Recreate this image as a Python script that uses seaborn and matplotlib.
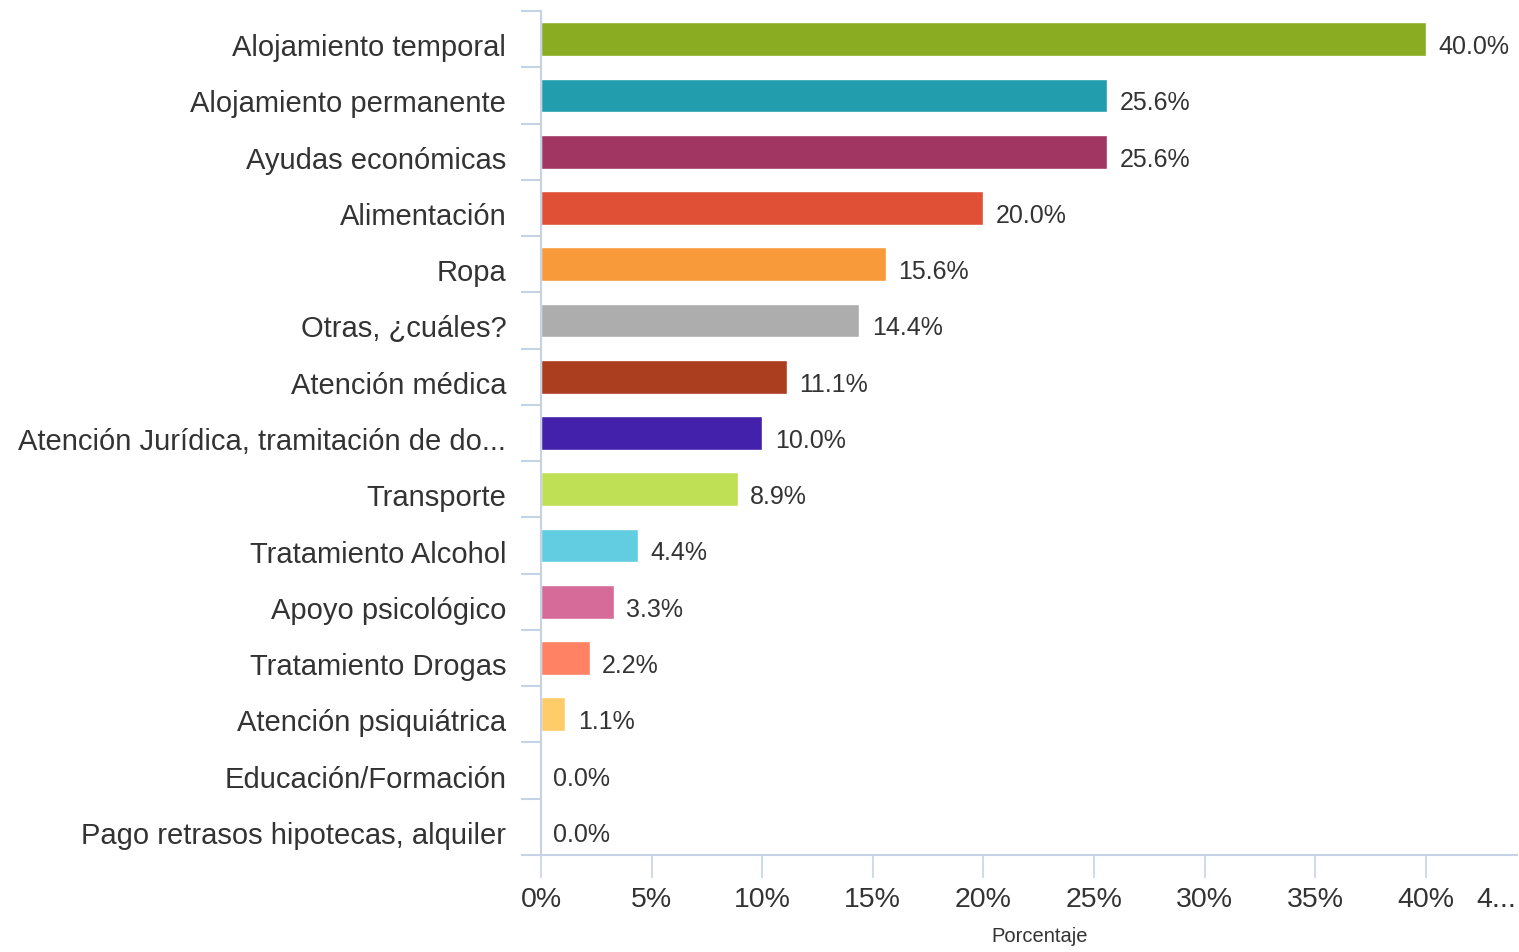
import matplotlib
matplotlib.use("Agg")
import matplotlib.pyplot as plt
import seaborn as sns
import pandas as pd
from matplotlib.ticker import FixedLocator
from matplotlib.transforms import ScaledTranslation

categories = [
    "Alojamiento temporal",
    "Alojamiento permanente",
    "Ayudas económicas",
    "Alimentación",
    "Ropa",
    "Otras, ¿cuáles?",
    "Atención médica",
    "Atención Jurídica, tramitación de do...",
    "Transporte",
    "Tratamiento Alcohol",
    "Apoyo psicológico",
    "Tratamiento Drogas",
    "Atención psiquiátrica",
    "Educación/Formación",
    "Pago retrasos hipotecas, alquiler",
]
values = [40.0, 25.6, 25.6, 20.0, 15.6, 14.4, 11.1, 10.0, 8.9, 4.4, 3.3, 2.2, 1.1, 0.0, 0.0]
colors = ["#8aac22", "#229dad", "#a23663", "#df5037", "#f89a3a", "#adadad", "#aa3e1f",
          "#4421aa", "#bfdf55", "#62cde0", "#d66a98", "#ff8264", "#ffcc6a", "#cccccc", "#cccccc"]
xticks = [0, 5, 10, 15, 20, 25, 30, 35, 40]
xticklabels = ["0%", "5%", "10%", "15%", "20%", "25%", "30%", "35%", "40%"]
truncated_label = "4..."

sns.set_theme(style="white")
plt.rcParams["font.family"] = ["Liberation Sans", "DejaVu Sans"]

df = pd.DataFrame({"cat": categories, "val": values})

fig = plt.figure(figsize=(15.19, 9.53), dpi=100)
ax = fig.add_axes([541 / 1519, 1 - 856 / 953, 1 - 541 / 1519 - 0.001, (856 - 12) / 953])

sns.barplot(data=df, x="val", y="cat", hue="cat", palette=colors, legend=False,
            orient="h", width=0.6, ax=ax, saturation=1)

axis_col = "#c6d3e6"
text_col = "#333333"

ax.set_xlim(0, 44.15)
ax.set_ylim(len(categories) - 0.5, -0.5)

for s in ["top", "right"]:
    ax.spines[s].set_visible(False)
for s in ["left", "bottom"]:
    ax.spines[s].set_color(axis_col)
    ax.spines[s].set_linewidth(1.5)

tick_len = 16.5
tick_pad = 6
ax.xaxis.set_major_locator(FixedLocator(xticks))
ax.set_xticklabels(xticklabels)
ax.tick_params(axis="x", length=tick_len, width=1.2, color=axis_col, labelsize=20.5,
               labelcolor=text_col, pad=tick_pad, bottom=True)
ax.annotate(truncated_label, xy=(44.1, 0), xycoords=("data", "axes fraction"),
            xytext=(0, -(tick_len + tick_pad)), textcoords="offset points",
            ha="right", va="top", fontsize=20.5, color=text_col)
ax.set_xlabel("Porcentaje", fontsize=14.5, color=text_col, labelpad=10)
ax.xaxis.label.set_x(0.511)
ax.set_ylabel("")

ax.tick_params(axis="y", which="major", length=0, labelsize=21, labelcolor=text_col, pad=25)
ax.yaxis.set_minor_locator(FixedLocator([i - 0.5 for i in range(len(categories) + 1)]))
ax.tick_params(axis="y", which="minor", length=14.5, width=1.5, color=axis_col, left=True)
shift = ScaledTranslation(0, -5 / 100, fig.dpi_scale_trans)
for lab in ax.get_yticklabels():
    lab.set_transform(lab.get_transform() + shift)

for i, v in enumerate(values):
    ax.annotate(f"{v:.1f}%", xy=(v, i), xytext=(9, -5), textcoords="offset points",
                ha="left", va="center", fontsize=18, color=text_col)

ax.grid(False)
fig.savefig("out.png", dpi=100, facecolor="white")
